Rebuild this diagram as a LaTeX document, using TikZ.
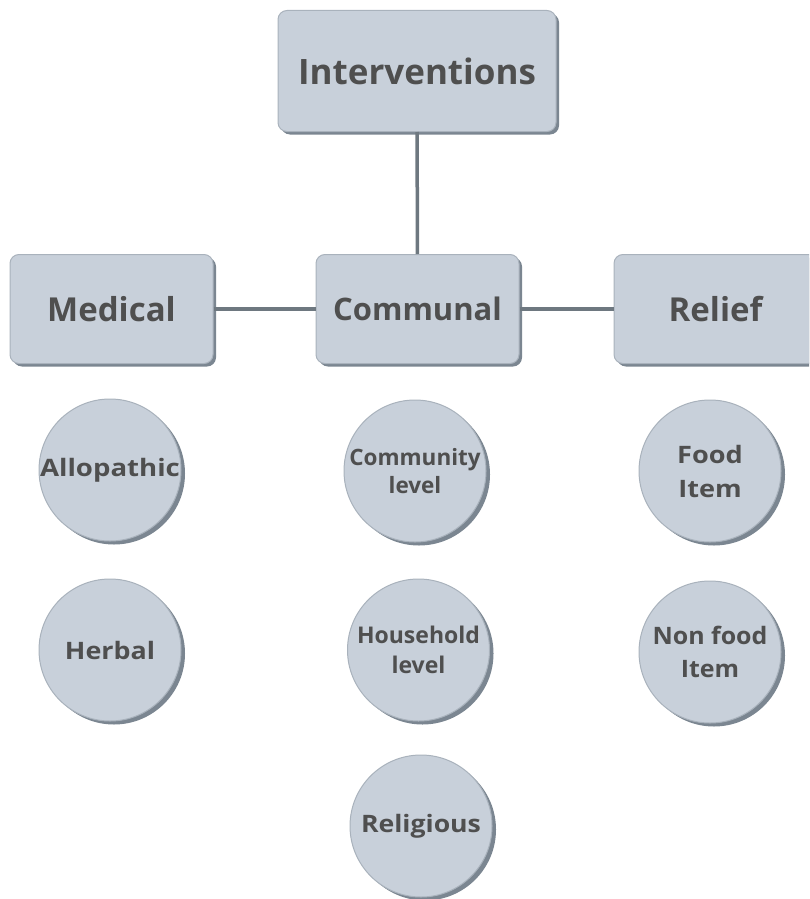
\documentclass[tikz,border=0pt]{standalone}
\usepackage{fontspec}
\setmainfont{Open Sans}
\usetikzlibrary{shadows}

\definecolor{boxfill}{HTML}{C8D0DA}
\definecolor{boxline}{HTML}{A9B2BC}
\definecolor{boxshade}{HTML}{7B8691}
\definecolor{linkgray}{HTML}{6E7880}
\definecolor{labelgray}{HTML}{4F4F4F}

% size, line spacing, horizontal stretch
\newcommand\leaffont[3]{\bfseries\fontsize{#1}{#2}\selectfont\addfontfeature{FakeStretch=#3}}

\tikzset{
  shade3/.style={drop shadow={shadow xshift=3pt, shadow yshift=-3pt, fill=boxshade, opacity=1}},
  shade4/.style={drop shadow={shadow xshift=4pt, shadow yshift=-3.5pt, fill=boxshade, opacity=1}},
  topic/.style={draw=boxline, fill=boxfill, line width=1pt, rounded corners=9pt,
    text=labelgray, inner sep=0pt, minimum width=203pt, minimum height=109pt,
    font=\bfseries\fontsize{33}{36}\selectfont, shade3},
  leaf/.style={circle, draw=boxline, fill=boxfill, line width=1pt, text=labelgray,
    inner sep=0pt, minimum size=142pt, align=center,
    font=\leaffont{24}{34}{1}, shade4},
  link/.style={draw=linkgray, line width=3.5pt}
}

\begin{document}
\begin{tikzpicture}[x=1pt, y=-1pt]
\useasboundingbox (0,0) rectangle (809,899);
\clip (0,0) rectangle (809,899);
\node[topic, minimum width=278pt, minimum height=121pt, font=\bfseries\fontsize{35}{38}\selectfont] (root) at (417,71) {Interventions};
\node[topic] (medical) at (111.5,309) {Medical};
\node[topic, font=\bfseries\fontsize{31}{34}\selectfont] (communal) at (417.5,309) {Communal};
\node[topic] (relief) at (715.5,309) {Relief};
\draw[link] (root) -- (communal);
\draw[link] (medical) -- (communal);
\draw[link] (communal) -- (relief);
% medical branch
\node[leaf, font=\leaffont{24}{34}{1.15}] (allo) at (110,470) {Allopathic};
\node[leaf, font=\leaffont{24}{34}{1.12}] (herbal) at (110,650) {Herbal};
% communal branch
\node[leaf, font=\leaffont{22.5}{28}{1}] (commlevel) at (415,471) {Community\\level};
\node[leaf, font=\leaffont{23}{30}{1}] (houselevel) at (418.5,650) {Household\\level};
\node[leaf, font=\leaffont{24}{34}{1.11}] (religious) at (421,826) {Religious};
% relief branch
\node[leaf, font=\leaffont{24}{34}{1.13}] (food) at (710,471) {Food\\Item};
\node[leaf, font=\leaffont{24}{33}{1.04}] (nonfood) at (710,652) {Non food\\Item};
\end{tikzpicture}
\end{document}
